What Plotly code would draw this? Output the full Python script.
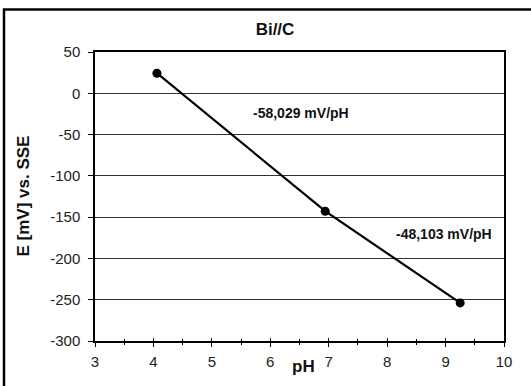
import plotly.graph_objects as go

ph = [4.06, 6.94, 9.25]
potential = [24.3, -142.8, -253.9]
slope_labels = ["-58,029 mV/pH", "-48,103 mV/pH"]
slope_label_x = [6.53, 8.97]
slope_label_y = [-24, -170]
x_ticks = [3, 4, 5, 6, 7, 8, 9, 10]
y_ticks = [50, 0, -50, -100, -150, -200, -250, -300]

FONT = "Liberation Sans, Arial, sans-serif"
TICKFONT = dict(family=FONT, size=15, color="#222")

fig = go.Figure()
fig.add_trace(go.Scatter(
    x=ph, y=potential, mode="lines+markers",
    line=dict(color="black", width=2.2),
    marker=dict(color="black", size=9),
    showlegend=False,
))
# invisible trace on overlay axis for inward ticks
fig.add_trace(go.Scatter(x=[3, 10], y=[-300, 50], xaxis="x2", mode="markers",
                         marker=dict(opacity=0), showlegend=False, hoverinfo="skip"))

for t, x, y in zip(slope_labels, slope_label_x, slope_label_y):
    fig.add_annotation(x=x, y=y, text="<b>" + t + "</b>", showarrow=False,
                       font=dict(family=FONT, size=14, color="#111"))

# axis titles
fig.add_annotation(xref="paper", yref="paper", x=(303 - 95) / 409, y=(340.7 - 366) / 288.7,
                   text="<b>pH</b>", showarrow=False, xanchor="center", yanchor="middle",
                   font=dict(family=FONT, size=17, color="#111"))
fig.add_annotation(xref="paper", yref="paper", x=(23 - 95) / 409, y=0.5,
                   text="<b>E [mV] vs. SSE</b>", textangle=-90, showarrow=False,
                   xanchor="center", yanchor="middle",
                   font=dict(family=FONT, size=17, color="#111"))

fig.update_layout(
    width=531, height=386,
    margin=dict(l=95, r=27, t=52, b=45),
    paper_bgcolor="white", plot_bgcolor="white",
    font=dict(family=FONT, size=14, color="#222"),
    title=dict(text="<b>Bi//C</b>", x=275 / 531, xanchor="center", y=1 - 29.5 / 386,
               yanchor="middle", font=dict(family=FONT, size=17, color="#111")),
    xaxis=dict(range=[3, 10], tickvals=x_ticks, ticktext=[str(v) for v in x_ticks],
               tickfont=TICKFONT, ticklabelstandoff=2, showgrid=False, zeroline=False,
               showline=True, linecolor="black", linewidth=1.5, mirror=True,
               ticks="outside", ticklen=4, tickcolor="black",
               minor=dict(dtick=0.5, ticks="outside", ticklen=2, tickcolor="black")),
    xaxis2=dict(range=[3, 10], dtick=1, overlaying="x", side="bottom", showgrid=False,
                zeroline=False, showticklabels=False, ticks="inside", ticklen=3,
                tickcolor="black", showline=False,
                minor=dict(dtick=0.5, ticks="inside", ticklen=2, tickcolor="black")),
    yaxis=dict(range=[-300, 50], tickvals=y_ticks, ticktext=[str(v) for v in y_ticks],
               tickfont=TICKFONT, ticklabelstandoff=5, showgrid=True, gridcolor="#333",
               gridwidth=1.3, zeroline=False, showline=True, linecolor="black",
               linewidth=1.5, mirror=True, ticks="outside", ticklen=5, tickcolor="black"),
    shapes=[dict(type="rect", xref="paper", yref="paper",
                 x0=(4 - 95) / 409, x1=1.2, y0=-0.3, y1=1 + (52 - 9.5) / 288.7,
                 line=dict(color="black", width=2.5), layer="below")],
)

fig.write_html("out.html")
